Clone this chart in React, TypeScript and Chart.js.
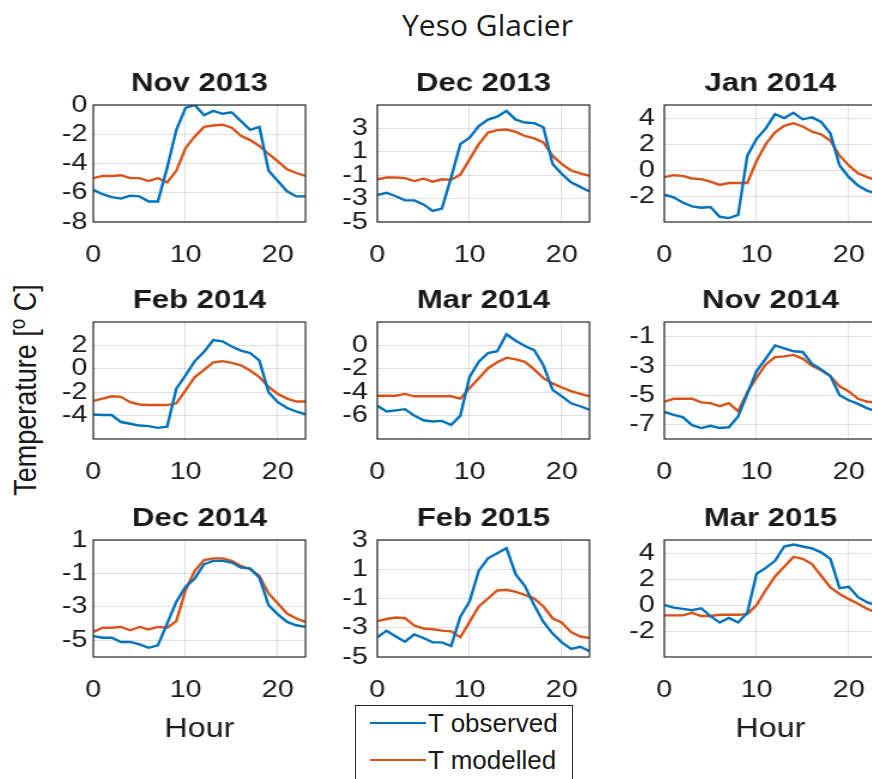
import React, { useEffect, useRef } from "react";
import { Chart, registerables } from "chart.js";

Chart.register(...registerables);

// ---------------- data ----------------
const HOURS = [0, 1, 2, 3, 4, 5, 6, 7, 8, 9, 10, 11, 12, 13, 14, 15, 16, 17, 18, 19, 20, 21, 22, 23];
const X_TICKS = [0, 10, 20];
const SERIES_NAMES = ["T observed", "T modelled"];
const FIGURE_TITLE = "Yeso Glacier";
const X_LABEL = "Hour";

const PANEL_TITLES = ["Nov 2013", "Dec 2013", "Jan 2014", "Feb 2014", "Mar 2014", "Nov 2014", "Dec 2014", "Feb 2015", "Mar 2015"];

const OBS_NOV_2013 = [-5.8, -6.1, -6.3, -6.4, -6.2, -6.25, -6.6, -6.6, -4.3, -1.7, -0.2, 0.0, -0.7, -0.4, -0.6, -0.5, -1.1, -1.7, -1.5, -4.5, -5.2, -5.9, -6.25, -6.25];
const MOD_NOV_2013 = [-5.0, -4.85, -4.85, -4.8, -5.0, -5.0, -5.2, -5.0, -5.3, -4.5, -2.95, -2.15, -1.5, -1.4, -1.35, -1.55, -2.1, -2.4, -2.8, -3.35, -3.85, -4.4, -4.65, -4.85];

const OBS_DEC_2013 = [-2.7, -2.5, -2.8, -3.15, -3.15, -3.5, -4.05, -3.85, -1.2, 1.65, 2.2, 3.2, 3.75, 4.0, 4.5, 3.75, 3.5, 3.45, 3.1, -0.05, -0.9, -1.6, -2.0, -2.4];
const MOD_DEC_2013 = [-1.35, -1.2, -1.2, -1.25, -1.5, -1.3, -1.55, -1.35, -1.4, -0.95, 0.35, 1.65, 2.65, 2.85, 2.9, 2.7, 2.35, 2.15, 1.8, 0.65, -0.05, -0.6, -0.85, -1.05];

const OBS_JAN_2014 = [-1.9, -2.1, -2.5, -2.8, -2.9, -2.85, -3.6, -3.7, -3.45, 1.1, 2.4, 3.2, 4.3, 4.0, 4.4, 3.9, 4.05, 3.7, 2.8, 0.35, -0.55, -1.2, -1.6, -1.8];
const MOD_JAN_2014 = [-0.55, -0.4, -0.45, -0.65, -0.7, -0.9, -1.15, -1.0, -1.0, -1.0, 0.7, 2.0, 2.9, 3.4, 3.6, 3.35, 2.95, 2.75, 2.25, 1.1, 0.35, -0.25, -0.55, -0.8];

const OBS_FEB_2014 = [-3.9, -3.95, -3.95, -4.55, -4.7, -4.85, -4.9, -5.05, -4.95, -1.7, -0.55, 0.65, 1.45, 2.45, 2.35, 1.9, 1.55, 1.35, 0.7, -2.0, -2.85, -3.35, -3.65, -3.9];
const MOD_FEB_2014 = [-2.75, -2.55, -2.35, -2.4, -2.85, -3.05, -3.1, -3.1, -3.1, -2.95, -1.85, -0.7, -0.1, 0.55, 0.65, 0.5, 0.3, -0.15, -0.7, -1.55, -2.15, -2.55, -2.8, -2.8];

const OBS_MAR_2014 = [-5.15, -5.65, -5.55, -5.45, -6.0, -6.4, -6.5, -6.45, -6.8, -6.0, -2.7, -1.4, -0.65, -0.5, 0.95, 0.4, -0.05, -0.4, -1.7, -3.8, -4.35, -4.95, -5.2, -5.5];
const MOD_MAR_2014 = [-4.3, -4.3, -4.3, -4.15, -4.35, -4.35, -4.35, -4.35, -4.35, -4.55, -3.65, -2.8, -1.95, -1.45, -1.05, -1.2, -1.4, -2.05, -2.8, -3.25, -3.6, -3.9, -4.15, -4.35];

const OBS_NOV_2014 = [-6.15, -6.35, -6.5, -7.05, -7.25, -7.1, -7.25, -7.2, -6.45, -4.9, -3.35, -2.5, -1.6, -1.8, -2.0, -2.05, -2.85, -3.25, -3.7, -5.0, -5.35, -5.6, -5.9, -6.1];
const MOD_NOV_2014 = [-5.45, -5.25, -5.25, -5.25, -5.5, -5.55, -5.75, -5.55, -6.1, -4.8, -3.8, -2.9, -2.4, -2.35, -2.25, -2.5, -3.0, -3.3, -3.7, -4.4, -4.75, -5.25, -5.45, -5.5];

const OBS_DEC_2014 = [-4.75, -4.85, -4.85, -5.1, -5.1, -5.25, -5.45, -5.3, -4.0, -2.7, -1.8, -1.3, -0.45, -0.25, -0.25, -0.35, -0.65, -0.7, -1.25, -2.9, -3.45, -3.9, -4.1, -4.2];
const MOD_DEC_2014 = [-4.5, -4.25, -4.25, -4.2, -4.4, -4.2, -4.35, -4.2, -4.25, -3.85, -2.0, -0.85, -0.2, -0.1, -0.1, -0.25, -0.55, -0.75, -1.15, -2.2, -2.8, -3.4, -3.7, -3.9];

const OBS_FEB_2015 = [-3.65, -3.2, -3.6, -3.95, -3.45, -3.7, -4.0, -4.0, -4.25, -2.25, -1.2, 0.9, 1.75, 2.1, 2.45, 0.65, -0.15, -1.45, -2.6, -3.4, -4.0, -4.45, -4.3, -4.6];
const MOD_FEB_2015 = [-2.55, -2.4, -2.3, -2.35, -2.85, -3.05, -3.1, -3.2, -3.25, -3.65, -2.6, -1.55, -1.0, -0.45, -0.4, -0.55, -0.75, -1.0, -1.55, -2.35, -2.65, -3.3, -3.6, -3.7];

const OBS_MAR_2015 = [0.0, -0.2, -0.3, -0.4, -0.25, -0.85, -1.35, -1.0, -1.35, -0.6, 2.4, 2.85, 3.4, 4.5, 4.65, 4.5, 4.35, 4.05, 3.55, 1.3, 1.4, 0.6, 0.2, 0.0];
const MOD_MAR_2015 = [-0.8, -0.8, -0.8, -0.6, -0.85, -0.85, -0.75, -0.75, -0.75, -0.7, 0.0, 1.15, 2.2, 2.95, 3.7, 3.55, 3.15, 2.25, 1.35, 0.85, 0.45, 0.1, -0.3, -0.6];

const OBSERVED = [OBS_NOV_2013, OBS_DEC_2013, OBS_JAN_2014, OBS_FEB_2014, OBS_MAR_2014, OBS_NOV_2014, OBS_DEC_2014, OBS_FEB_2015, OBS_MAR_2015];
const MODELLED = [MOD_NOV_2013, MOD_DEC_2013, MOD_JAN_2014, MOD_FEB_2014, MOD_MAR_2014, MOD_NOV_2014, MOD_DEC_2014, MOD_FEB_2015, MOD_MAR_2015];

const Y_MIN = [-8, -5, -4, -6, -8, -8, -6, -5, -4];
const Y_MAX = [0, 5, 5, 4, 2, 0, 1, 3, 5];
const Y_TICKS = [
  [-8, -6, -4, -2, 0],
  [-5, -3, -1, 1, 3],
  [-2, 0, 2, 4],
  [-4, -2, 0, 2],
  [-6, -4, -2, 0],
  [-7, -5, -3, -1],
  [-5, -3, -1, 1],
  [-5, -3, -1, 1, 3],
  [-2, 0, 2, 4],
];

// ---------------- layout / style ----------------
// The figure is horizontally stretched; each canvas is drawn narrower and scaled by SX.
const SX = 1.2;
const COL_LEFT = [93, 377, 664];
const ROW_TOP = [105, 322, 540];
const PLOT_W_INT = 182;
const PLOT_H = 117;
const Y_AXIS_W_INT = 62;
const TITLE_H = 36;
const RIGHT_PAD_INT = 8;
const BLUE = "#0072BD";
const RED = "#D95319";
const TEXT = "#1a1a1a";
const GRID = "rgba(38,38,38,0.15)";
const SANS = '"Liberation Sans", Arial, Helvetica, sans-serif';

const axesBoxPlugin = {
  id: "axesBox",
  afterDraw(chart: any) {
    const { ctx, chartArea: a } = chart;
    ctx.save();
    ctx.strokeStyle = "#262626";
    ctx.lineWidth = 1.2;
    ctx.strokeRect(a.left, a.top, a.right - a.left, a.bottom - a.top);
    ctx.restore();
  },
};

function Panel({ idx }: { idx: number }) {
  const ref = useRef<HTMLCanvasElement>(null);
  const r = Math.floor(idx / 3);
  const c = idx % 3;
  const isBottom = r === 2;
  const showXTitle = isBottom && c !== 1;
  const axisH = isBottom ? 90 : 60;
  const W = Y_AXIS_W_INT + PLOT_W_INT + RIGHT_PAD_INT;
  const H = TITLE_H + PLOT_H + axisH;

  useEffect(() => {
    if (!ref.current) return;
    const toPts = (arr: number[]) => HOURS.map((h, i) => ({ x: h, y: arr[i] }));
    const chart = new Chart(ref.current, {
      type: "line",
      data: {
        datasets: [
          {
            label: SERIES_NAMES[0],
            data: toPts(OBSERVED[idx]),
            borderColor: BLUE,
            backgroundColor: BLUE,
            borderWidth: 2.4,
            pointRadius: 0,
            tension: 0,
            fill: false,
          },
          {
            label: SERIES_NAMES[1],
            data: toPts(MODELLED[idx]),
            borderColor: RED,
            backgroundColor: RED,
            borderWidth: 2.4,
            pointRadius: 0,
            tension: 0,
            fill: false,
          },
        ],
      },
      options: {
        animation: false,
        responsive: false,
        maintainAspectRatio: false,
        devicePixelRatio: 1,
        layout: { padding: { left: 0, right: RIGHT_PAD_INT, top: 0, bottom: 0 } },
        plugins: {
          legend: { display: false },
          tooltip: { enabled: false },
          title: {
            display: true,
            text: PANEL_TITLES[idx],
            fullSize: false,
            color: TEXT,
            font: { family: SANS, weight: "bold", size: 26, lineHeight: 1 },
            padding: { top: 2, bottom: 8 },
          },
        },
        scales: {
          x: {
            type: "linear",
            min: 0,
            max: 23,
            afterBuildTicks: (s: any) => {
              s.ticks = X_TICKS.map((v) => ({ value: v }));
            },
            afterFit: (s: any) => {
              s.height = axisH;
            },
            grid: { color: GRID, lineWidth: 1, drawTicks: false },
            border: { display: false },
            ticks: {
              padding: 21,
              color: TEXT,
              autoSkip: false,
              maxRotation: 0,
              font: { family: SANS, size: 24, lineHeight: 1 },
              callback: (v: any) => String(v),
            },
            title: {
              display: showXTitle,
              text: X_LABEL,
              color: TEXT,
              font: { family: SANS, size: 27, lineHeight: 1 },
              padding: { top: 0, bottom: 4 },
            },
          },
          y: {
            type: "linear",
            min: Y_MIN[idx],
            max: Y_MAX[idx],
            afterBuildTicks: (s: any) => {
              s.ticks = Y_TICKS[idx].map((v) => ({ value: v }));
            },
            afterFit: (s: any) => {
              s.width = Y_AXIS_W_INT;
            },
            grid: { color: GRID, lineWidth: 1, drawTicks: false },
            border: { display: false },
            ticks: {
              padding: c === 0 ? 5 : 8,
              color: TEXT,
              autoSkip: false,
              font: { family: SANS, size: 24, lineHeight: 1 },
              callback: (v: any) => String(v),
            },
          },
        },
      } as any,
      plugins: [axesBoxPlugin],
    });
    return () => chart.destroy();
  }, [idx]);

  return (
    <canvas
      ref={ref}
      width={W}
      height={H}
      style={{
        position: "absolute",
        display: "block",
        left: COL_LEFT[c] - Y_AXIS_W_INT * SX,
        top: ROW_TOP[r] - TITLE_H,
        width: W * SX,
        height: H,
      }}
    />
  );
}

export default function App() {
  return (
    <div
      style={{
        position: "absolute",
        left: 0,
        top: 0,
        width: 872,
        height: 779,
        overflow: "hidden",
        background: "#fff",
        fontFamily: SANS,
        color: TEXT,
      }}
    >
      <div
        style={{
          position: "absolute",
          left: 487.5,
          top: 25,
          transform: "translate(-50%, -50%)",
          fontFamily: '"Open Sans", sans-serif',
          fontSize: 30,
          lineHeight: 1,
          whiteSpace: "nowrap",
        }}
      >
        {FIGURE_TITLE}
      </div>
      <div
        style={{
          position: "absolute",
          left: 26,
          top: 390,
          transform: "translate(-50%, -50%) scaleX(1.15) rotate(-90deg)",
          fontSize: 27,
          lineHeight: 1,
          whiteSpace: "nowrap",
        }}
      >
        Temperature [
        <span style={{ fontSize: "0.7em", position: "relative", top: "-0.5em" }}>o</span> C]
      </div>
      {PANEL_TITLES.map((_, i) => (
        <Panel key={i} idx={i} />
      ))}
      <div
        style={{
          position: "absolute",
          left: 355,
          top: 705,
          width: 218,
          height: 90,
          border: "1.3px solid #262626",
          boxSizing: "border-box",
          background: "#fff",
        }}
      >
        {SERIES_NAMES.map((name, i) => (
          <React.Fragment key={name}>
            <div
              style={{
                position: "absolute",
                left: 14,
                top: 16 + i * 37,
                width: 56,
                height: 2.4,
                background: i === 0 ? BLUE : RED,
              }}
            />
            <div
              style={{
                position: "absolute",
                left: 72,
                top: 4 + i * 37,
                fontSize: 26,
                lineHeight: "26px",
                whiteSpace: "nowrap",
              }}
            >
              {name}
            </div>
          </React.Fragment>
        ))}
      </div>
    </div>
  );
}
